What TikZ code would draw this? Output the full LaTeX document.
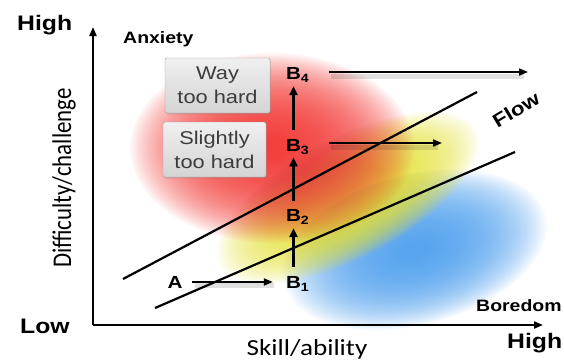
\documentclass[tikz,border=0pt]{standalone}
\usepackage{fontspec}
\usetikzlibrary{arrows.meta,shadows}
\newfontfamily\hel[FakeStretch=1.18]{Liberation Sans}
\newfontfamily\calh[FakeStretch=1.18]{Carlito}
\newfontfamily\calv[FakeStretch=0.847]{Carlito}
\definecolor{myred}{RGB}{242,56,52}
\definecolor{myyellow}{RGB}{228,226,60}
\definecolor{myblue}{RGB}{80,160,238}
\definecolor{boxtext}{RGB}{60,60,60}
\tikzset{
  bigword/.style={font=\hel\bfseries\fontsize{21}{21}\selectfont, inner sep=0pt, anchor=base west},
  zoneword/.style={font=\hel\bfseries\fontsize{16.5}{16.5}\selectfont, inner sep=0pt, anchor=base west},
  bnode/.style={font=\hel\bfseries\fontsize{17.5}{17.5}\selectfont, inner sep=0pt, anchor=base},
  hardbox/.style={draw=black!38, top color=black!6, bottom color=black!17, rounded corners=1.5pt,
    minimum height=55pt, align=center, text=boxtext, font=\hel\fontsize{18.5}{24}\selectfont,
    drop shadow={opacity=0.25, shadow xshift=1.2pt, shadow yshift=-1.5pt}},
  axis/.style={line width=2pt, -{Triangle[length=9pt,width=7pt]}},
  diag/.style={line width=2.2pt},
  varrow/.style={line width=2.6pt, -{Triangle[length=9pt,width=8pt]}},
  harrow/.style={line width=1.8pt, -{Triangle[length=9pt,width=7pt]}},
  hshadow/.style={line width=5pt, black, opacity=0.12},
}
\newcommand{\Bsub}[1]{B\rlap{\raisebox{-3pt}{\fontsize{12}{12}\selectfont #1}}}
% colour, cx, cy, rx, ry, angle, opacity per layer
\newcommand{\zoneblob}[7]{%
  \foreach \k in {1,...,80}{%
    \pgfmathsetmacro{\fr}{(\k/80)^1.3}%
    \fill[#1, opacity=#7, rotate around={#6:(#2,#3)}] (#2,#3) ellipse ({#4*\fr} and {#5*\fr});}}
\begin{document}
\begin{tikzpicture}[x=1pt,y=-1pt]
\useasboundingbox (0,0) rectangle (564,360);
% colour zones
\zoneblob{myblue}{415}{250}{135}{75}{15}{0.042}
\zoneblob{myyellow}{348}{198}{145}{60}{28}{0.05}
\zoneblob{myred}{272}{148}{142}{95}{0}{0.042}
% axes
\coordinate (O) at (93,325);
\coordinate (ytop) at (93,27);
\coordinate (xend) at (543,325);
\draw[axis] (O) -- (ytop);
\draw[axis] (O) -- (xend);
% axis words
\node[bigword] (hiy) at (17,30) {High};
\node[bigword] (low) at (20,333) {Low};
\node[bigword] (hix) at (507,348) {High};
\node[zoneword] (anx) at (123,43) {Anxiety};
\node[zoneword] (bor) at (476,311) {Boredom};
\node[font=\calh\fontsize{23}{23}\selectfont, inner sep=0pt, anchor=base] (skill) at (307,355) {Skill/ability};
\node[font=\calv\fontsize{27}{27}\selectfont, inner sep=0pt, rotate=90] (diff) at (64,178) {Difficulty/challenge};
% flow band
\coordinate (u1) at (123,279);
\coordinate (u2) at (477,92);
\coordinate (l1) at (155,308);
\coordinate (l2) at (515,152);
\draw[diag] (u1) -- (u2);
\draw[diag] (l1) -- (l2);
\node[font=\hel\bfseries\fontsize{19}{19}\selectfont, inner sep=0pt, rotate=31] (flow) at (516,110) {Flow};
% boxes
\node[hardbox, minimum width=105pt] (way) at (217.5,85.5) {Way\\too hard};
\node[hardbox, minimum width=103pt] (slight) at (214.5,149.5) {Slightly\\too hard};
% B nodes
\node[bnode] (b4) at (293.5,79) {\Bsub{4}};
\node[bnode] (b3) at (293.5,151) {\Bsub{3}};
\node[bnode] (b2) at (293.5,221) {\Bsub{2}};
\node[bnode] (b1) at (293.5,288) {\Bsub{1}};
\node[bnode] (a) at (175,288) {A};
\coordinate (e3) at (442,143);
\coordinate (e4) at (528,72);
% shadows of horizontal arrows
\draw[hshadow] ([xshift=12pt,yshift=-4pt]a.east) -- ([xshift=-12pt,yshift=-4pt]a.east -| b1.west);
\draw[hshadow] ([xshift=30pt]b3.east |- e3) ++(0,4) -- ([yshift=-4pt,xshift=-4pt]e3);
\draw[hshadow] ([xshift=30pt]b4.east |- e4) ++(0,4) -- ([yshift=-4pt,xshift=-4pt]e4);
% arrows
\draw[varrow, shorten <=9pt, shorten >=4pt] (b1) -- (b2);
\draw[varrow, shorten <=8pt, shorten >=3pt] (b2) -- (b3);
\draw[varrow, shorten <=9pt, shorten >=4pt] (b3) -- (b4);
\draw[harrow, shorten <=9pt, shorten >=13pt] (a.east) -- (a.east -| b1.west);
\draw[harrow, shorten <=28pt] (b3.east |- e3) -- (e3);
\draw[harrow, shorten <=28pt] (b4.east |- e4) -- (e4);
\end{tikzpicture}
\end{document}
